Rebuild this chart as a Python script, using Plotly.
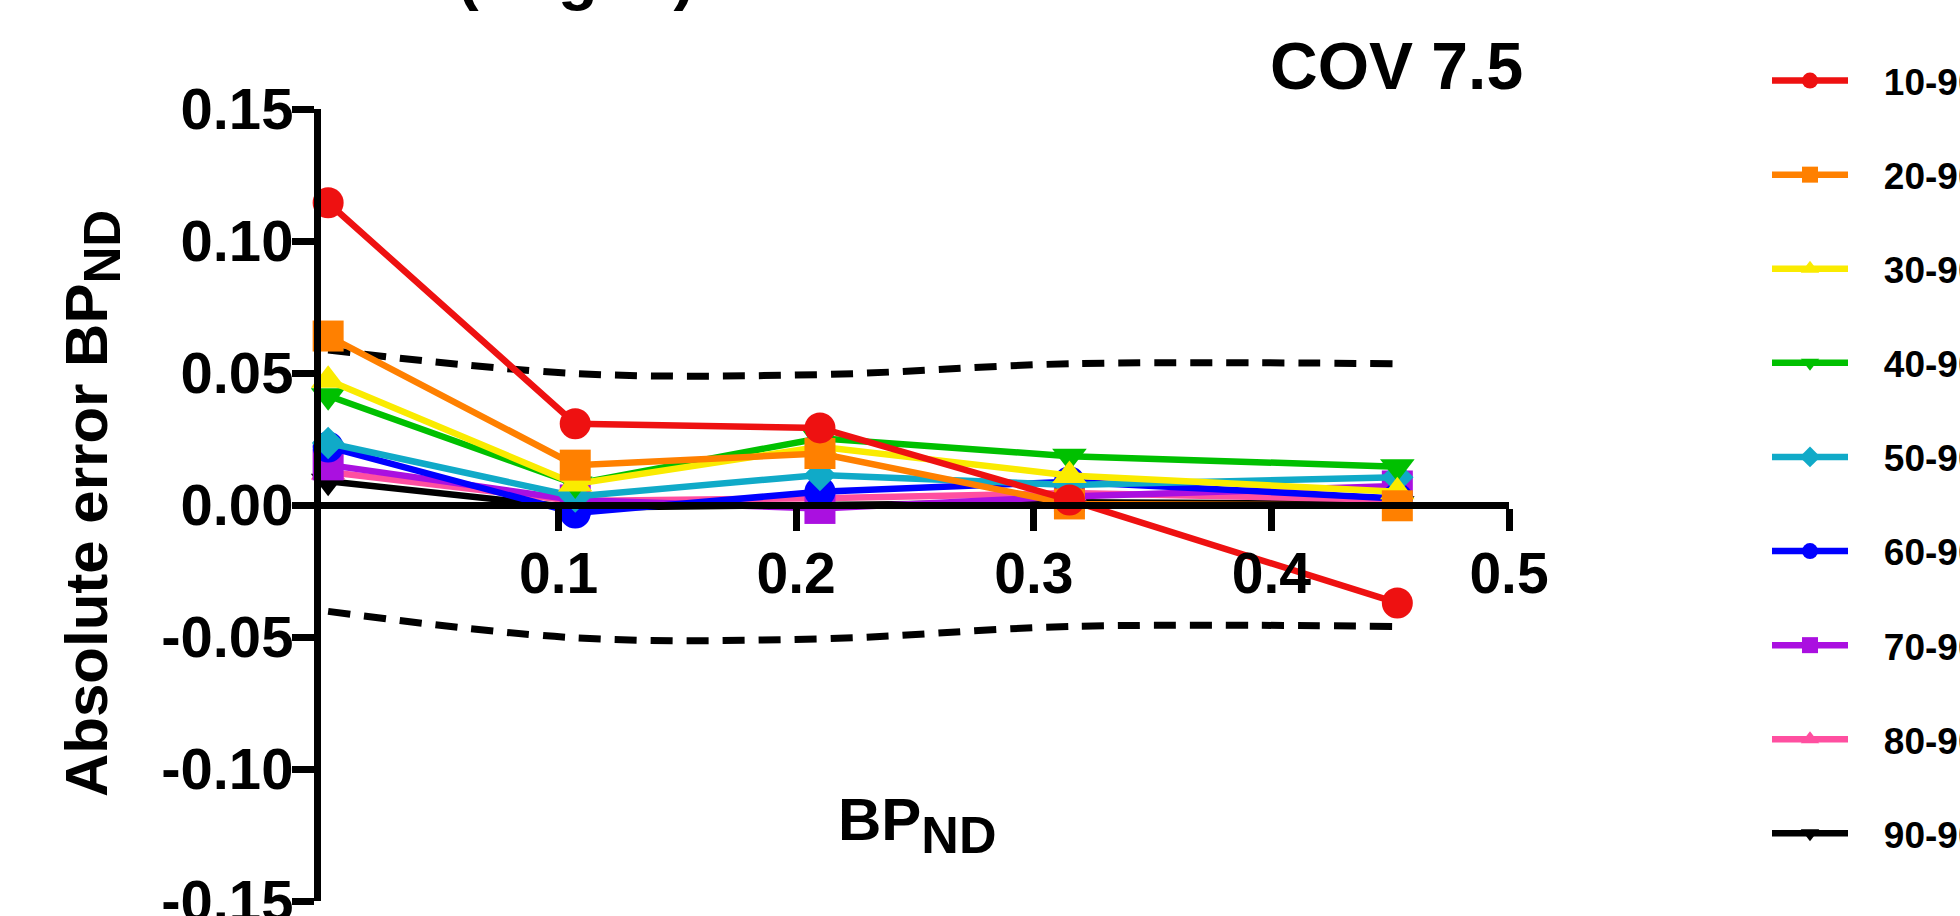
import plotly.graph_objects as go

# ---------------- data ----------------
bp_nd = [0.003, 0.107, 0.210, 0.315, 0.453]

series_names = ["10-90 min", "20-90 min", "30-90 min", "40-90 min", "50-90 min",
                "60-90 min", "70-90 min", "80-90 min", "90-90 min"]

err_10 = [0.1145, 0.0308, 0.0292, 0.0019, -0.0371]
err_20 = [0.0640, 0.0151, 0.0195, 0.0004, -0.0003]
err_30 = [0.0473, 0.0080, 0.0221, 0.0112, 0.0050]
err_40 = [0.0414, 0.0080, 0.0253, 0.0185, 0.0145]
err_50 = [0.0235, 0.0032, 0.0114, 0.0076, 0.0105]
err_60 = [0.0220, -0.0030, 0.0050, 0.0088, 0.0025]
err_70 = [0.0152, 0.0019, -0.0013, 0.0032, 0.0072]
err_80 = [0.0125, 0.0015, 0.0026, 0.0045, 0.0020]
err_90 = [0.0090, -0.0010, 0.0000, 0.0010, 0.0005]

upper_limit = [0.0587, 0.0498, 0.0494, 0.0535, 0.0535]
lower_limit = [-0.0403, -0.0503, -0.0507, -0.0460, -0.0460]

y_ticks = [0.15, 0.10, 0.05, 0.00, -0.05, -0.10, -0.15]
y_tick_text = ["0.15", "0.10", "0.05", "0.00", "-0.05", "-0.10", "-0.15"]
x_ticks = [0.1, 0.2, 0.3, 0.4, 0.5]
x_tick_text = ["0.1", "0.2", "0.3", "0.4", "0.5"]

# ---------------- styles ----------------
all_series = [err_10, err_20, err_30, err_40, err_50, err_60, err_70, err_80, err_90]
colors = ["#EE1111", "#FF8000", "#FAEB00", "#00C000", "#10AAC8",
          "#0000FF", "#AA10E0", "#FF4FA0", "#000000"]
symbols = ["circle", "square", "triangle-up", "triangle-down", "diamond",
           "circle", "square", "triangle-up", "triangle-down"]
sizes = [31, 31, 30, 30, 25, 31, 31, 30, 30]

FONT = "Liberation Sans, Arial, sans-serif"
GAP = "\u00a0\u00a0\u00a0"  # spacing between legend sample and label

fig = go.Figure()

# dashed limits
for lim in (upper_limit, lower_limit):
    fig.add_trace(go.Scatter(
        x=bp_nd, y=lim, mode="lines", showlegend=False, hoverinfo="skip",
        line=dict(color="black", width=7, dash="22px,14px", shape="spline", smoothing=1),
    ))

# series, drawn 90 -> 10 so that 10 is on top; legend ordered 10 -> 90
for i in reversed(range(len(all_series))):
    fig.add_trace(go.Scatter(
        x=bp_nd, y=all_series[i], mode="lines+markers", name=GAP + series_names[i],
        legendgroup=series_names[i], legendrank=i + 1,
        line=dict(color=colors[i], width=6.5),
        marker=dict(symbol=symbols[i], size=sizes[i], color=colors[i], line=dict(width=0)),
        cliponaxis=False,
    ))

L, R, T, B = 321, 451, 109, 15
W, H = 1960, 916
pw, ph = W - L - R, H - T - B

def px_x(px):
    return (px - L) / pw

def px_y(py):
    return (H - B - py) / ph

fig.update_layout(
    width=W, height=H,
    margin=dict(l=L, r=R, t=T, b=B, autoexpand=False),
    paper_bgcolor="white", plot_bgcolor="white",
    font=dict(family=FONT, color="black"),
    xaxis=dict(
        range=[0, 0.5], tickmode="array", tickvals=x_ticks, ticktext=x_tick_text,
        ticks="outside", ticklen=22, tickwidth=7, tickcolor="black",
        showline=True, linewidth=7, linecolor="black",
        showgrid=False, zeroline=False, anchor="free", position=0.5,
        tickfont=dict(size=57, family=FONT, weight="bold"),
        ticklabeloverflow="allow", ticklabelstandoff=-6,
    ),
    yaxis=dict(
        range=[-0.15, 0.15], tickmode="array", tickvals=y_ticks, ticktext=y_tick_text,
        ticks="outside", ticklen=22, tickwidth=7, tickcolor="black",
        showline=True, linewidth=7, linecolor="black",
        showgrid=False, zeroline=False,
        tickfont=dict(size=58, family=FONT, weight="bold"),
        ticklabeloverflow="allow", ticklabelstandoff=-13,
    ),
    legend=dict(
        x=px_x(1767), y=px_y(50), xanchor="left", yanchor="top",
        traceorder="grouped", tracegroupgap=43, maxheight=900,
        font=dict(size=37, family=FONT, weight="bold"),
        itemwidth=76, bgcolor="rgba(0,0,0,0)", borderwidth=0,
    ),
    showlegend=True,
)

fig.add_annotation(
    text="COV 7.5", x=px_x(1396), y=px_y(66), xref="paper", yref="paper",
    xanchor="center", yanchor="middle", showarrow=False,
    font=dict(size=66, family=FONT, weight="bold"),
)
fig.add_annotation(
    text="(Logan)", x=px_x(576), y=px_y(14), xref="paper", yref="paper",
    xanchor="center", yanchor="bottom", showarrow=False,
    font=dict(size=65, family=FONT, weight="bold"),
)
fig.add_annotation(
    text="BP<sub><span style='font-size:52px'>ND</span></sub>",
    x=px_x(917), y=px_y(825), xref="paper", yref="paper",
    xanchor="center", yanchor="middle", showarrow=False,
    font=dict(size=60, family=FONT, weight="bold"),
)
fig.add_annotation(
    text="Absolute error BP<sub><span style='font-size:51px'>ND</span></sub>",
    x=px_x(92), y=px_y(504), xref="paper", yref="paper", textangle=-90,
    xanchor="center", yanchor="middle", showarrow=False,
    font=dict(size=60, family=FONT, weight="bold"),
)

fig.write_html("out.html", config={"displayModeBar": False},
               post_script="document.body.style.margin='0';")
